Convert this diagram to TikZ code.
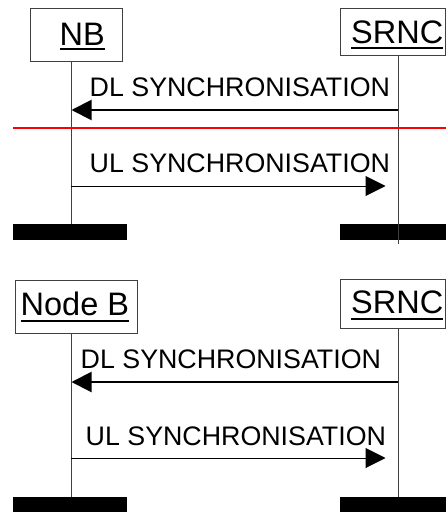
\documentclass[tikz,border=0pt]{standalone}
\usepackage{fontspec}
\setmainfont{Liberation Sans}
\usetikzlibrary{arrows.meta}
\begin{document}
\begin{tikzpicture}[x=1pt,y=-1pt,
  entbox/.style={draw=black!75, line width=0.9pt, fill=white, inner sep=0pt},
  enttext/.style={inner sep=0pt, anchor=base west, font=\fontsize{32.5}{37}\selectfont},
  msgtext/.style={inner sep=0pt, anchor=base west, font=\fontsize{26.8}{30}\selectfont},
  lifeline/.style={draw=black!75, line width=0.9pt},
  endbar/.style={fill=black, inner sep=0pt},
  dlmsg/.style={line width=2pt, -{Triangle[length=20pt,width=20pt]}},
  ulmsg/.style={line width=1pt, -{Triangle[length=20pt,width=20pt]}},
  uline/.style={line width=2pt}]
\useasboundingbox (0,0) rectangle (446,522);

% ---------- top diagram ----------
\node[entbox, minimum width=92pt, minimum height=53pt] (nbbox) at (76,34.5) {};
\node[entbox, minimum width=105pt, minimum height=47pt] (srncbox) at (392.5,31.5) {};
\node[enttext] (nbtxt) at (59.5,45) {NB};
\draw[uline] ([yshift=-4pt]nbtxt.base west) -- ([yshift=-4pt]nbtxt.base east);
\node[enttext] (srnctxt) at (351,43) {SRNC};
\draw[uline] ([yshift=-5pt]srnctxt.base west) -- ([yshift=-5pt]srnctxt.base east);

\node[endbar, minimum width=114pt, minimum height=16pt] (nbbar) at (70,232) {};
\node[endbar, minimum width=106pt, minimum height=16pt] (srncbar) at (393,232) {};

\coordinate (nbtop) at (71,61);
\coordinate (nbbot) at (71,224);
\coordinate (srtop) at (398,55);
\coordinate (srbot) at (398,244);
\draw[lifeline] (nbtop) -- (nbbot);
\draw[lifeline] (srtop) -- (srbot);

\coordinate (dlA) at (398,110);
\coordinate (dlB) at (71.5,110);
\draw[dlmsg] (dlA) -- (dlB);
\node[msgtext] (dltxt) at (89.5,96) {DL SYNCHRONISATION};

\coordinate (redL) at (13,128);
\coordinate (redR) at (446,128);
\draw[red, line width=1.3pt] (redL) -- (redR);

\coordinate (ulA) at (71,186);
\coordinate (ulB) at (385.5,186);
\draw[ulmsg] (ulA) -- (ulB);
\node[msgtext] (ultxt) at (89.5,172) {UL SYNCHRONISATION};

% ---------- bottom diagram ----------
\node[entbox, minimum width=122pt, minimum height=53pt] (nb2box) at (76,306.5) {};
\node[entbox, minimum width=105pt, minimum height=49pt] (srnc2box) at (392.5,303.5) {};
\node[enttext] (nb2txt) at (20.5,315) {Node B};
\draw[uline] ([yshift=-6pt]nb2txt.base west) -- ([yshift=-6pt]nb2txt.base east);
\node[enttext] (srnc2txt) at (351,313) {SRNC};
\draw[uline] ([yshift=-6pt]srnc2txt.base west) -- ([yshift=-6pt]srnc2txt.base east);

\node[endbar, minimum width=114pt, minimum height=15pt] (nb2bar) at (70,504.5) {};
\node[endbar, minimum width=106pt, minimum height=15pt] (srnc2bar) at (393,504.5) {};

\coordinate (nb2top) at (71,333);
\coordinate (nb2bot) at (71,497);
\coordinate (sr2top) at (398,328);
\coordinate (sr2bot) at (398,497);
\draw[lifeline] (nb2top) -- (nb2bot);
\draw[lifeline] (sr2top) -- (sr2bot);

\coordinate (dl2A) at (398,382);
\coordinate (dl2B) at (71.5,382);
\draw[dlmsg] (dl2A) -- (dl2B);
\node[msgtext] (dl2txt) at (80.5,368) {DL SYNCHRONISATION};

\coordinate (ul2A) at (71,458);
\coordinate (ul2B) at (385.5,458);
\draw[ulmsg] (ul2A) -- (ul2B);
\node[msgtext] (ul2txt) at (85.5,445) {UL SYNCHRONISATION};
\end{tikzpicture}
\end{document}
